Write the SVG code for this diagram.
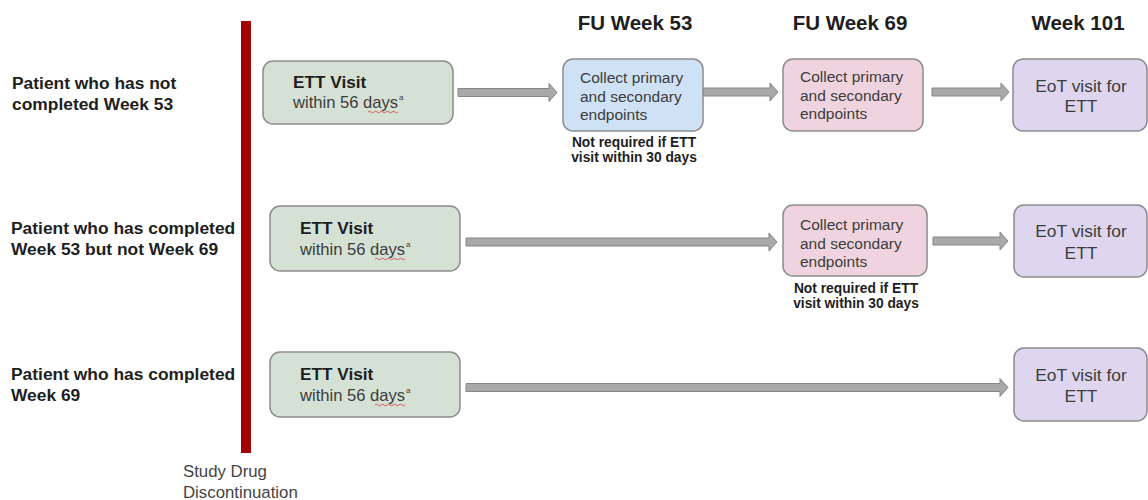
<svg xmlns="http://www.w3.org/2000/svg" width="1148" height="500" viewBox="0 0 1148 500">
<style>
.lbl{font-family:"Liberation Sans",Arial,sans-serif;font-weight:bold;font-size:17.4px;fill:#1e1e1e}
.hdr{font-family:"Liberation Sans",Arial,sans-serif;font-weight:bold;font-size:20.5px;fill:#1e1e1e}
.t{font-family:"Liberation Sans",Arial,sans-serif;font-size:15.5px;fill:#3c3c3c}
.w{font-family:"Liberation Sans",Arial,sans-serif;font-size:16.6px;fill:#3c3c3c}
.e{font-family:"Liberation Sans",Arial,sans-serif;font-size:17.4px;fill:#3c3c3c}
.tb{font-family:"Liberation Sans",Arial,sans-serif;font-size:17.2px;font-weight:bold;fill:#1e1e1e}
.note{font-family:"Liberation Sans",Arial,sans-serif;font-size:13.8px;font-weight:bold;fill:#1e1e1e}
.sup{font-family:"Liberation Sans",Arial,sans-serif;font-size:8px;fill:#3c3c3c}
.sd{font-family:"Liberation Sans",Arial,sans-serif;font-size:16.8px;fill:#444}
.box{stroke:#8c8c8c;stroke-width:1.5}
.g{fill:#d6e1d6}
.b{fill:#cfe1f4}
.p{fill:#efd4df}
.v{fill:#ddd6ee}
.arr{fill:#a9a9a9;stroke:#858585;stroke-width:1}
.wav{fill:none;stroke:#d04040;stroke-width:0.8}
</style>

<rect id="discontinuation-bar" x="241" y="21" width="10" height="432" fill="#a50000"/>

<g id="headers">
<text class="hdr" x="635" y="30" text-anchor="middle">FU Week 53</text>
<text class="hdr" x="850" y="30" text-anchor="middle">FU Week 69</text>
<text class="hdr" x="1078" y="30" text-anchor="middle">Week 101</text>
</g>

<g id="row-labels">
<text class="lbl" x="12" y="89">Patient who has not</text>
<text class="lbl" x="12" y="110">completed Week 53</text>
<text class="lbl" x="11" y="234">Patient who has completed</text>
<text class="lbl" x="11" y="255">Week 53 but not Week 69</text>
<text class="lbl" x="11" y="380">Patient who has completed</text>
<text class="lbl" x="11" y="401">Week 69</text>
</g>

<g id="study-drug-label">
<text class="sd" x="183" y="477">Study Drug</text>
<text class="sd" x="183" y="498">Discontinuation</text>
</g>

<g id="connectors">
<path class="arr" d="M458,88.5 H549 V83.5 L557,92.5 L549,101.5 V96.5 H458 Z"/>
<path class="arr" d="M703,88 H770 V83 L778,92 L770,101 V96 H703 Z"/>
<path class="arr" d="M932,88 H1001 V83 L1009,92 L1001,101 V96 H932 Z"/>
<path class="arr" d="M466,238 H769 V233 L777,242 L769,251 V246 H466 Z"/>
<path class="arr" d="M933,237 H1000 V232 L1008,241 L1000,250 V245 H933 Z"/>
<path class="arr" d="M466,383.5 H1000 V378.5 L1008,387.5 L1000,396.5 V391.5 H466 Z"/>
</g>

<g id="ett-row1">
<rect class="box g" x="263" y="61" width="190" height="63" rx="10"/>
<text class="tb" x="293" y="88">ETT Visit</text>
<text class="w" x="293" y="108">within 56 days</text>
<text class="sup" x="399" y="100">a</text>
<path class="wav" d="M368,112 q1.5,-1.5 3,0 t3,0 t3,0 t3,0 t3,0 t3,0 t3,0 t3,0 t3,0 t3,0"/>
</g>

<g id="fu53-row1">
<rect class="box b" x="563" y="59" width="140" height="72" rx="10"/>
<text class="t" x="580" y="83">Collect primary</text>
<text class="t" x="580" y="102">and secondary</text>
<text class="t" x="580" y="120">endpoints</text>
</g>
<g id="note-row1">
<text class="note" x="634" y="147" text-anchor="middle">Not required if ETT</text>
<text class="note" x="634" y="162" text-anchor="middle">visit within 30 days</text>
</g>

<g id="fu69-row1">
<rect class="box p" x="783" y="59" width="140" height="72" rx="10"/>
<text class="t" x="800" y="82">Collect primary</text>
<text class="t" x="800" y="101">and secondary</text>
<text class="t" x="800" y="119">endpoints</text>
</g>

<g id="eot-row1">
<rect class="box v" x="1013" y="59" width="134" height="72" rx="10"/>
<text class="e" x="1081" y="92" text-anchor="middle">EoT visit for</text>
<text class="e" x="1081" y="112" text-anchor="middle">ETT</text>
</g>

<g id="ett-row2">
<rect class="box g" x="270" y="206" width="190" height="65" rx="10"/>
<text class="tb" x="300" y="234">ETT Visit</text>
<text class="w" x="300" y="255">within 56 days</text>
<text class="sup" x="406" y="247">a</text>
<path class="wav" d="M375,259 q1.5,-1.5 3,0 t3,0 t3,0 t3,0 t3,0 t3,0 t3,0 t3,0 t3,0 t3,0"/>
</g>

<g id="fu69-row2">
<rect class="box p" x="783" y="205" width="144" height="71" rx="10"/>
<text class="t" x="800" y="230">Collect primary</text>
<text class="t" x="800" y="249">and secondary</text>
<text class="t" x="800" y="267">endpoints</text>
</g>
<g id="note-row2">
<text class="note" x="856" y="293" text-anchor="middle">Not required if ETT</text>
<text class="note" x="856" y="308" text-anchor="middle">visit within 30 days</text>
</g>

<g id="eot-row2">
<rect class="box v" x="1014" y="205" width="133" height="72" rx="10"/>
<text class="e" x="1081" y="237" text-anchor="middle">EoT visit for</text>
<text class="e" x="1081" y="259" text-anchor="middle">ETT</text>
</g>

<g id="ett-row3">
<rect class="box g" x="270" y="352" width="190" height="65" rx="10"/>
<text class="tb" x="300" y="380">ETT Visit</text>
<text class="w" x="300" y="401">within 56 days</text>
<text class="sup" x="406" y="393">a</text>
<path class="wav" d="M375,405 q1.5,-1.5 3,0 t3,0 t3,0 t3,0 t3,0 t3,0 t3,0 t3,0 t3,0 t3,0"/>
</g>

<g id="eot-row3">
<rect class="box v" x="1014" y="348" width="133" height="73" rx="10"/>
<text class="e" x="1081" y="381" text-anchor="middle">EoT visit for</text>
<text class="e" x="1081" y="402" text-anchor="middle">ETT</text>
</g>
</svg>
